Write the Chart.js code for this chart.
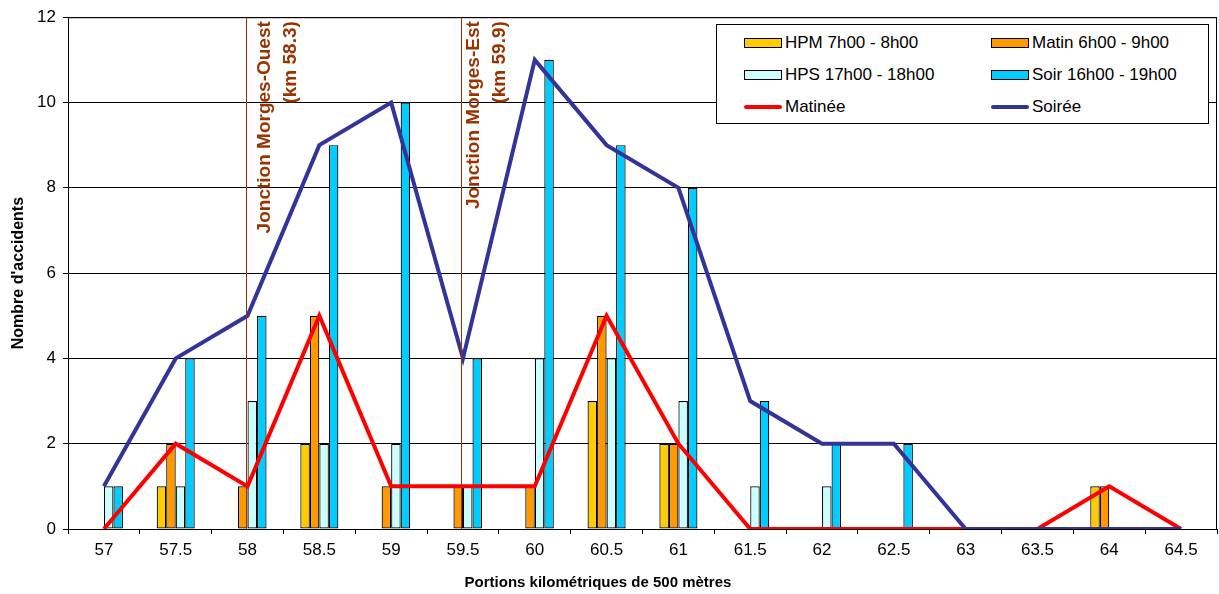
<!DOCTYPE html>
<html>
<head>
<meta charset="utf-8">
<script src="https://cdn.jsdelivr.net/npm/chart.js@4"></script>
<style>
  body { margin: 0; background: #fff; font-family: Arial, "Liberation Sans", sans-serif; }
  #wrap { position: relative; width: 1219px; height: 594px; }
  #legend {
    position: absolute; left: 716px; top: 24px; width: 491px; height: 96px;
    border: 1px solid #000; background: #fff;
    display: grid; grid-template-columns: 247px 244px; grid-auto-rows: 32px;
    padding-top: 2px; box-sizing: content-box;
  }
  .item { display: flex; align-items: center; font-size: 17px; color: #000; padding-left: 27px; }
  .sw { width: 36px; height: 8px; border: 1px solid #000; margin-right: 3px; }
  .ln { width: 38px; height: 4px; border-radius: 2px; margin-right: 3px; }
  #xtitle {
    position: absolute; left: 0; width: 1196px; top: 573px; text-align: center;
    font-weight: bold; font-size: 15px; color: #000;
  }
</style>
</head>
<body>
<div id="wrap">
  <canvas id="myChart" width="1219" height="594"></canvas>
  <div id="legend"></div>
  <div id="xtitle">Portions kilométriques de 500 mètres</div>
</div>
<script>
const categories = ['57', '57.5', '58', '58.5', '59', '59.5', '60', '60.5', '61', '61.5', '62', '62.5', '63', '63.5', '64', '64.5'];
const hpm     = [0, 1, 0, 2, 0, 0, 0, 3, 2, 0, 0, 0, 0, 0, 1, 0];
const matin   = [0, 2, 1, 5, 1, 1, 1, 5, 2, 0, 0, 0, 0, 0, 1, 0];
const hps     = [1, 1, 3, 2, 2, 1, 4, 4, 3, 1, 1, 0, 0, 0, 0, 0];
const soir    = [1, 4, 5, 9, 10, 4, 11, 9, 8, 3, 2, 2, 0, 0, 0, 0];
const matinee = [0, 2, 1, 5, 1, 1, 1, 5, 2, 0, 0, 0, 0, 0, 1, 0];
const soiree  = [1, 4, 5, 9, 10, 4, 11, 9, 8, 3, 2, 2, 0, 0, 0, 0];
const yTicks = [0, 2, 4, 6, 8, 10, 12];

// vertical markers for the junctions (position as category index)
const jonctions = [
    { at: 1.98, lines: ['Jonction Morges-Ouest', '(km 58.3)'], dx: [18, 44] },
    { at: 4.97, lines: ['Jonction Morges-Est', '(km 59.9)'], dx: [12, 38] }
];

const FONT = 'Arial, "Liberation Sans", sans-serif';
const BROWN = '#993300';

function barSet(label, data, color) {
    return {
        type: 'bar', label: label, data: data, backgroundColor: color,
        borderColor: '#000', borderWidth: 1.2, borderSkipped: false,
        barPercentage: 1, categoryPercentage: 0.53, order: 2
    };
}

const frame = {
    id: 'frame',
    beforeDatasetsDraw(chart) {
        const ctx = chart.ctx, a = chart.chartArea;
        ctx.save();
        ctx.strokeStyle = '#000';
        ctx.lineWidth = 1;
        ctx.beginPath();
        ctx.moveTo(a.left, a.top + 0.5);
        ctx.lineTo(a.right - 0.5, a.top + 0.5);
        ctx.lineTo(a.right - 0.5, a.bottom);
        ctx.stroke();
        ctx.restore();
    },
    afterDatasetsDraw(chart) {
        const ctx = chart.ctx, a = chart.chartArea, x = chart.scales.x;
        ctx.save();
        jonctions.forEach(j => {
            const px = Math.round(x.getPixelForValue(j.at)) + 0.5;
            ctx.strokeStyle = BROWN;
            ctx.lineWidth = 1;
            ctx.beginPath();
            ctx.moveTo(px, a.top);
            ctx.lineTo(px, a.bottom);
            ctx.stroke();
            ctx.fillStyle = BROWN;
            ctx.font = 'bold 19px ' + FONT;
            ctx.textAlign = 'right';
            ctx.textBaseline = 'middle';
            j.lines.forEach((t, i) => {
                ctx.save();
                ctx.translate(px + j.dx[i], a.top + 4);
                ctx.rotate(-Math.PI / 2);
                ctx.fillText(t, 0, 0);
                ctx.restore();
            });
        });
        ctx.restore();
    }
};

let myChart;
document.addEventListener('DOMContentLoaded', () => {
    const ctx = document.getElementById('myChart').getContext('2d');
    myChart = new Chart(ctx, {
        data: {
            labels: categories,
            datasets: [
                barSet('HPM 7h00 - 8h00', hpm, '#FFCC00'),
                barSet('Matin 6h00 - 9h00', matin, '#FF9900'),
                barSet('HPS 17h00 - 18h00', hps, '#CCFFFF'),
                barSet('Soir 16h00 - 19h00', soir, '#00CCFF'),
                { type: 'line', label: 'Matinée', data: matinee, borderColor: '#FF0000', borderWidth: 4,
                  pointRadius: 0, tension: 0, fill: false, order: 1 },
                { type: 'line', label: 'Soirée', data: soiree, borderColor: '#333399', borderWidth: 4,
                  pointRadius: 0, tension: 0, fill: false, order: 0 }
            ]
        },
        options: {
            responsive: false,
            animation: false,
            layout: { padding: { top: 14, right: 2, left: 0, bottom: 0 } },
            plugins: { legend: { display: false }, tooltip: { enabled: false } },
            scales: {
                x: {
                    offset: true,
                    afterFit: (s) => { s.height = 65; },
                    grid: { offset: true, drawOnChartArea: false, drawTicks: true, tickLength: 5, color: '#000' },
                    border: { color: '#000', width: 1 },
                    ticks: { color: '#000', font: { family: FONT, size: 17 }, padding: 6, maxRotation: 0, autoSkip: false }
                },
                y: {
                    min: 0, max: 12,
                    afterFit: (s) => { s.width = 68; },
                    afterBuildTicks: (s) => { s.ticks = yTicks.map(v => ({ value: v })); },
                    grid: { color: '#000', lineWidth: 1, tickLength: 5 },
                    border: { color: '#000', width: 1 },
                    ticks: { color: '#000', font: { family: FONT, size: 17 }, padding: 7 },
                    title: { display: true, text: "Nombre d'accidents", color: '#000',
                             font: { family: FONT, size: 16, weight: 'bold' }, padding: { top: 9, bottom: 0 } }
                }
            }
        },
        plugins: [frame]
    });

    // html legend built from the datasets
    const leg = document.getElementById('legend');
    myChart.data.datasets.forEach(ds => {
        const item = document.createElement('div');
        item.className = 'item';
        const mark = document.createElement('span');
        if (ds.type === 'bar') {
            mark.className = 'sw';
            mark.style.background = ds.backgroundColor;
        } else {
            mark.className = 'ln';
            mark.style.background = ds.borderColor;
        }
        item.appendChild(mark);
        item.appendChild(document.createTextNode(ds.label));
        leg.appendChild(item);
    });
});
</script>
</body>
</html>
